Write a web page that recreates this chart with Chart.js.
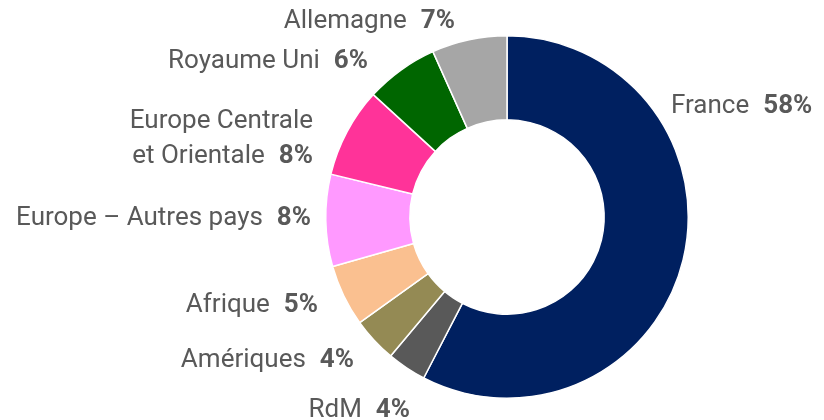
<!DOCTYPE html>
<html>
<head>
<meta charset="utf-8">
<script src="https://cdn.jsdelivr.net/npm/chart.js@4.4.1/dist/chart.umd.min.js"></script>
<style>
  html, body { margin: 0; padding: 0; background: #fff; }
  #wrap { width: 824px; height: 420px; position: relative; }
</style>
</head>
<body>
<div id="wrap"><canvas id="chart"></canvas></div>
<script>
const categories = ["France", "RdM", "Amériques", "Afrique", "Europe – Autres pays", "Europe Centrale\net Orientale", "Royaume Uni", "Allemagne"];
const shares = [57.6, 3.5, 4.0, 5.5, 8.2, 8.0, 6.5, 6.7];
const shareLabels = [58, 4, 4, 5, 8, 8, 6, 7];
const sliceColors = ["#002060", "#595959", "#948A54", "#FAC090", "#FF99FF", "#FF3399", "#006600", "#A6A6A6"];

// where each label sits, relative to the doughnut centre (x = text edge, y = last baseline)
const labelLayout = [
  { dx: 164, dy: -104, align: "left" },
  { dx: -97, dy: 200, align: "right" },
  { dx: -153, dy: 150, align: "right" },
  { dx: -189, dy: 95, align: "right" },
  { dx: -196, dy: 8, align: "right" },
  { dx: -194, dy: -54, align: "right" },
  { dx: -139, dy: -149, align: "right" },
  { dx: -52, dy: -189, align: "right" }
];

const FONT_FAMILY = "Roboto, 'Noto Sans', sans-serif";
const FONT_SIZE = 26;
const LINE_HEIGHT = 35;
const TEXT_COLOR = "#595959";

const sliceLabels = {
  id: "sliceLabels",
  afterDraw(chart) {
    const ctx = chart.ctx;
    const arc = chart.getDatasetMeta(0).data[0];
    const cx = arc.x;
    const cy = arc.y;
    ctx.save();
    ctx.fillStyle = TEXT_COLOR;
    ctx.textBaseline = "alphabetic";
    categories.forEach((name, i) => {
      const pos = labelLayout[i];
      const lines = name.split("\n");
      const pct = shareLabels[i] + "%";
      const gap = 14;
      const x = cx + pos.dx;
      const baseY = cy + pos.dy;
      lines.forEach((line, j) => {
        const y = baseY - (lines.length - 1 - j) * LINE_HEIGHT;
        const isLast = j === lines.length - 1;
        ctx.font = "bold " + FONT_SIZE + "px " + FONT_FAMILY;
        const pctW = isLast ? ctx.measureText(pct).width : 0;
        ctx.font = FONT_SIZE + "px " + FONT_FAMILY;
        const lineW = ctx.measureText(line).width;
        const total = lineW + (isLast ? gap + pctW : 0);
        const left = pos.align === "right" ? x - total : x;
        ctx.textAlign = "left";
        ctx.fillText(line, left, y);
        if (isLast) {
          ctx.font = "bold " + FONT_SIZE + "px " + FONT_FAMILY;
          ctx.fillText(pct, left + lineW + gap, y);
        }
      });
    });
    ctx.restore();
  }
};

new Chart(document.getElementById("chart"), {
  type: "doughnut",
  data: {
    labels: categories,
    datasets: [
      {
        data: shares,
        backgroundColor: sliceColors,
        borderColor: "#ffffff",
        borderWidth: 1.5,
        hoverOffset: 0
      }
    ]
  },
  options: {
    responsive: true,
    maintainAspectRatio: false,
    animation: false,
    cutout: "53.6%",
    layout: {
      padding: { top: 35, bottom: 21, left: 325, right: 135 }
    },
    plugins: {
      legend: { display: false },
      tooltip: { enabled: false }
    }
  },
  plugins: [sliceLabels]
});
</script>
</body>
</html>
